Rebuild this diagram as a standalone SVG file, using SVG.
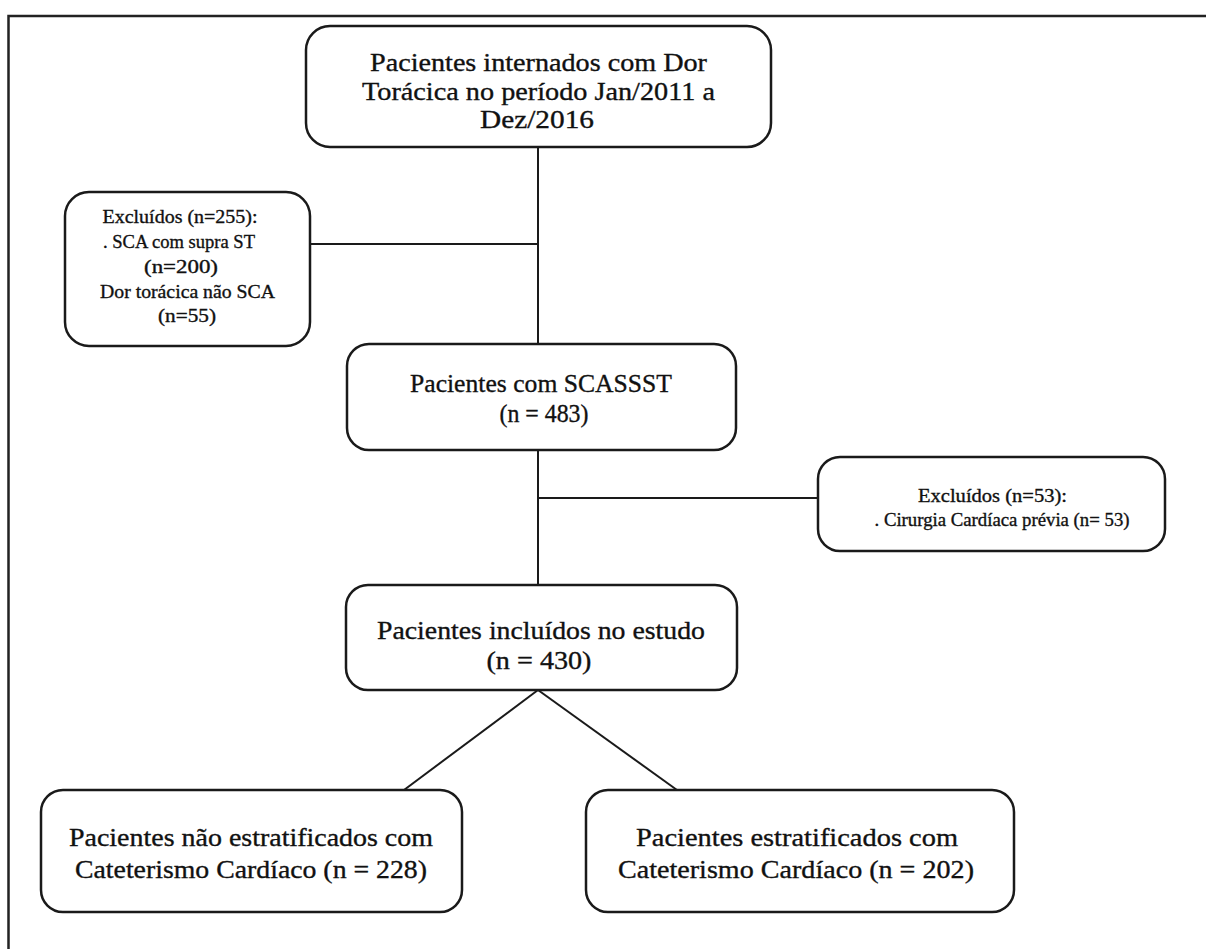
<svg xmlns="http://www.w3.org/2000/svg" width="1206" height="949" viewBox="0 0 1206 949">
<style>
.box{fill:#fff;stroke:#1a1a1a;stroke-width:2.5}
.ln{fill:none;stroke:#1a1a1a;stroke-width:2}
.t{font-family:"Liberation Serif","DejaVu Serif",serif;fill:#111;stroke:#111;stroke-width:0.35;text-anchor:middle}
.big{font-size:26px}
.sm{font-size:19px}
</style>
<rect width="1206" height="949" fill="#fff"/>
<path d="M8.5 949 V16 H1206" fill="none" stroke="#222" stroke-width="2.5"/>
<g id="connectors">
<line class="ln" x1="538" y1="147" x2="538" y2="344"/>
<line class="ln" x1="310" y1="244" x2="538" y2="244"/>
<line class="ln" x1="538" y1="450" x2="538" y2="585"/>
<line class="ln" x1="538" y1="498" x2="818" y2="498"/>
<line class="ln" x1="538" y1="690" x2="404" y2="790"/>
<line class="ln" x1="538" y1="690" x2="677" y2="790"/>
</g>
<g id="n1">
<rect class="box" x="306" y="26" width="465" height="121" rx="24"/>
<text class="t big" x="538.5" y="71" textLength="337" lengthAdjust="spacingAndGlyphs">Pacientes internados com Dor</text>
<text class="t big" x="538.5" y="99.5" textLength="353" lengthAdjust="spacingAndGlyphs">Torácica no período Jan/2011 a</text>
<text class="t big" x="537" y="128" textLength="114" lengthAdjust="spacingAndGlyphs">Dez/2016</text>
</g>
<g id="n2">
<rect class="box" x="65" y="192" width="245" height="154" rx="24"/>
<text class="t sm" x="180" y="223" textLength="155" lengthAdjust="spacingAndGlyphs">Excluídos (n=255):</text>
<text class="t sm" x="179" y="248" textLength="152" lengthAdjust="spacingAndGlyphs">. SCA com supra ST</text>
<text class="t sm" x="181" y="273" textLength="74" lengthAdjust="spacingAndGlyphs">(n=200)</text>
<text class="t sm" x="187.5" y="298" textLength="175" lengthAdjust="spacingAndGlyphs">Dor torácica não SCA</text>
<text class="t sm" x="187" y="322" textLength="58" lengthAdjust="spacingAndGlyphs">(n=55)</text>
</g>
<g id="n3">
<rect class="box" x="347" y="344" width="389" height="106" rx="22"/>
<text class="t big" x="541" y="392" textLength="262" lengthAdjust="spacingAndGlyphs">Pacientes com SCASSST</text>
<text class="t big" x="544" y="422" textLength="89" lengthAdjust="spacingAndGlyphs">(n = 483)</text>
</g>
<g id="n4">
<rect class="box" x="818" y="457" width="347" height="94" rx="22"/>
<text class="t sm" x="992.5" y="502" textLength="149" lengthAdjust="spacingAndGlyphs">Excluídos (n=53):</text>
<text class="t sm" x="1002" y="526" textLength="255" lengthAdjust="spacingAndGlyphs">. Cirurgia Cardíaca prévia (n= 53)</text>
</g>
<g id="n5">
<rect class="box" x="346" y="585" width="391" height="105" rx="22"/>
<text class="t big" x="541" y="639" textLength="328" lengthAdjust="spacingAndGlyphs">Pacientes incluídos no estudo</text>
<text class="t big" x="539" y="669" textLength="105" lengthAdjust="spacingAndGlyphs">(n = 430)</text>
</g>
<g id="n6">
<rect class="box" x="41" y="790" width="421" height="122" rx="22"/>
<text class="t big" x="251" y="846" textLength="364" lengthAdjust="spacingAndGlyphs">Pacientes não estratificados com</text>
<text class="t big" x="251" y="878" textLength="352" lengthAdjust="spacingAndGlyphs">Cateterismo Cardíaco (n = 228)</text>
</g>
<g id="n7">
<rect class="box" x="586" y="790" width="428" height="122" rx="22"/>
<text class="t big" x="797" y="846" textLength="322" lengthAdjust="spacingAndGlyphs">Pacientes estratificados com</text>
<text class="t big" x="796" y="878" textLength="356" lengthAdjust="spacingAndGlyphs">Cateterismo Cardíaco  (n = 202)</text>
</g>
</svg>
